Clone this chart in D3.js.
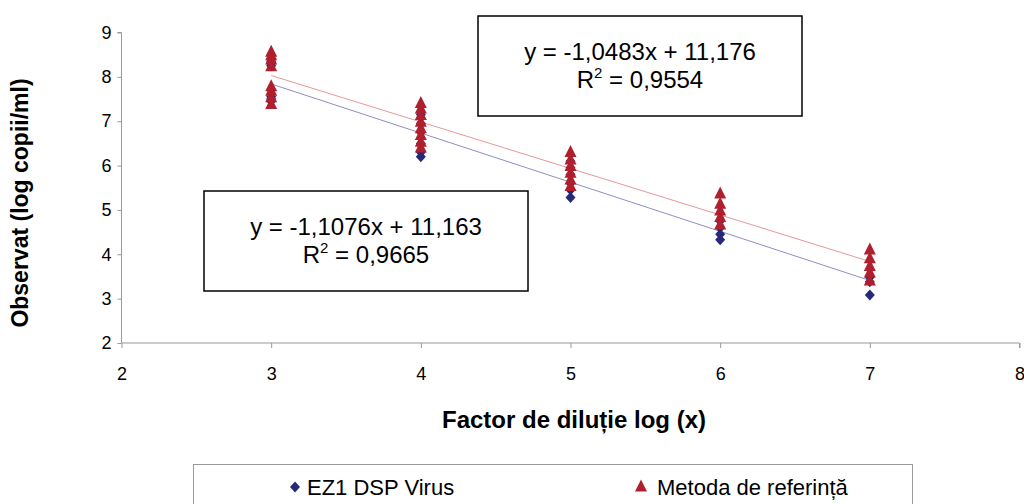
<!DOCTYPE html>
<html lang="ro">
<head>
<meta charset="UTF-8">
<title>Observat vs factor de diluție</title>
<script src="https://d3js.org/d3.v7.min.js"></script>
<style>
    body { margin: 0; background: #fff; }
    svg { display: block; font-family: "Liberation Sans", Arial, sans-serif; }
    .tick text { font-size: 18px; fill: #000; }
    .axis path, .axis line { stroke: #999; }
</style>
</head>
<body>
<svg id="chart" width="1024" height="504"></svg>
<script>
    // dilution factors (x) and observed values per series
    const dilutions = [3, 4, 5, 6, 7];
    const ez1Values = [
        [7.45, 7.5, 7.55, 8.25, 8.3, 8.35],
        [6.2, 6.3, 6.5, 6.75, 6.95, 7.15],
        [5.28, 5.45, 5.6, 5.8, 5.95, 6.1],
        [4.33, 4.45, 4.6, 4.75],
        [3.08, 3.38, 3.48]
    ];
    const refValues = [
        [7.4, 7.55, 7.7, 7.8, 8.25, 8.4, 8.5, 8.58],
        [6.42, 6.55, 6.7, 6.85, 7.0, 7.15, 7.3, 7.42],
        [5.55, 5.7, 5.85, 6.0, 6.15, 6.32],
        [4.68, 4.85, 5.0, 5.15, 5.38],
        [3.42, 3.6, 3.75, 3.92, 4.12]
    ];
    const xTicks = [2, 3, 4, 5, 6, 7, 8];
    const yTicks = [2, 3, 4, 5, 6, 7, 8, 9];
    const ez1Fit = { slope: -1.1076, intercept: 11.163, r2: "0,9665", label: "y = -1,1076x + 11,163" };
    const refFit = { slope: -1.0483, intercept: 11.176, r2: "0,9554", label: "y = -1,0483x + 11,176" };
    const seriesNames = ["EZ1 DSP Virus", "Metoda de referință"];

    const svg = d3.select("#chart");
    const blue = "#26287a";
    const red = "#b01f2e";
    const diamond = "M0,-5.5L5,0L0,5.5L-5,0Z";
    const triangle = "M0,-6.5L6,5.5L-6,5.5Z";

    const x = d3.scaleLinear().domain([2, 8]).range([121.5, 1019.5]);
    const y = d3.scaleLinear().domain([2, 9]).range([343, 32.5]);

    const xAxisG = svg.append("g")
        .attr("class", "axis")
        .attr("transform", "translate(0,343)")
        .call(d3.axisBottom(x).tickValues(xTicks).tickFormat(d3.format("d")).tickSize(5).tickPadding(19));
    xAxisG.select(".domain").attr("d", "M121.5,0H1019.5V5");

    const yAxisG = svg.append("g")
        .attr("class", "axis")
        .attr("transform", "translate(121.5,0)")
        .call(d3.axisLeft(y).tickValues(yTicks).tickFormat(d3.format("d")).tickSize(4).tickPadding(6));
    yAxisG.select(".domain").attr("d", "M-4,32.5H0V343");

    svg.append("text")
        .attr("x", 574).attr("y", 428)
        .attr("text-anchor", "middle")
        .style("font-size", "24px").style("font-weight", "bold")
        .text("Factor de diluție log (x)");

    svg.append("text")
        .attr("transform", "translate(28,203) rotate(-90)")
        .attr("text-anchor", "middle")
        .style("font-size", "23px").style("font-weight", "bold")
        .text("Observat (log copii/ml)");

    // trend lines
    [[ez1Fit, "#8e8ec4"], [refFit, "#e8979b"]].forEach(([f, c]) => {
        svg.append("line")
            .attr("x1", x(3)).attr("y1", y(f.slope * 3 + f.intercept))
            .attr("x2", x(7)).attr("y2", y(f.slope * 7 + f.intercept))
            .attr("stroke", c).attr("stroke-width", 1);
    });

    const flat = (vals) => vals.flatMap((arr, i) => arr.map(v => ({ x: dilutions[i], v })));

    svg.append("g").selectAll("path")
        .data(flat(ez1Values))
        .enter().append("path")
        .attr("transform", d => `translate(${x(d.x)},${y(d.v)})`)
        .attr("d", diamond)
        .attr("fill", blue);

    svg.append("g").selectAll("path")
        .data(flat(refValues))
        .enter().append("path")
        .attr("transform", d => `translate(${x(d.x)},${y(d.v)})`)
        .attr("d", triangle)
        .attr("fill", red);

    // equation boxes
    function eqBox(bx, by, f) {
        const g = svg.append("g").attr("transform", `translate(${bx},${by})`);
        g.append("rect").attr("width", 324).attr("height", 100)
            .attr("fill", "#fff").attr("stroke", "#000").attr("stroke-width", 1.5);
        g.append("text").attr("x", 162).attr("y", 44).attr("text-anchor", "middle")
            .style("font-size", "24px").text(f.label);
        const t = g.append("text").attr("x", 162).attr("y", 72).attr("text-anchor", "middle")
            .style("font-size", "24px");
        t.append("tspan").text("R");
        t.append("tspan").attr("dy", -10).style("font-size", "15px").text("2");
        t.append("tspan").attr("dy", 10).text(" = " + f.r2);
    }
    eqBox(478, 16, refFit);
    eqBox(204, 191, ez1Fit);

    // legend
    const lg = svg.append("g");
    lg.append("rect").attr("x", 193.5).attr("y", 464.5).attr("width", 719).attr("height", 60)
        .attr("fill", "#fff").attr("stroke", "#999").attr("stroke-width", 1);
    lg.append("path").attr("transform", "translate(295,487)")
        .attr("d", diamond).attr("fill", blue);
    lg.append("text").attr("x", 307).attr("y", 495).style("font-size", "22px").text(seriesNames[0]);
    lg.append("path").attr("transform", "translate(641,486)")
        .attr("d", triangle).attr("fill", red);
    lg.append("text").attr("x", 657).attr("y", 495).style("font-size", "22px").text(seriesNames[1]);
</script>
</body>
</html>
